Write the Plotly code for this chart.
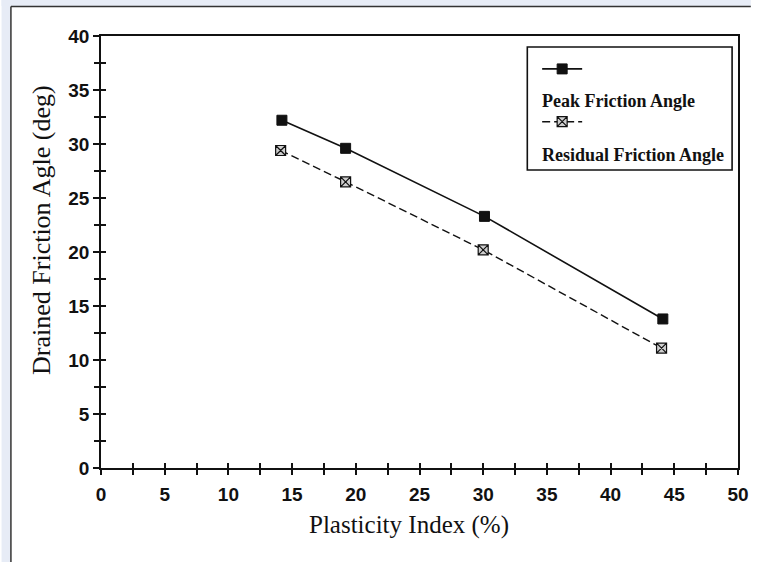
import plotly.graph_objects as go

# ---- data ----
pi_peak = [14.2, 19.2, 30.1, 44.1]
peak_angle = [32.2, 29.6, 23.3, 13.8]
pi_res = [14.1, 19.2, 30.0, 44.0]
res_angle = [29.4, 26.5, 20.2, 11.1]

x_ticks = [0, 5, 10, 15, 20, 25, 30, 35, 40, 45, 50]
y_ticks = [0, 5, 10, 15, 20, 25, 30, 35, 40]

series_names = ["Peak Friction Angle", "Residual Friction Angle"]
x_title = "Plasticity Index (%)"
y_title = "Drained Friction Agle (deg)"

# ---- layout geometry (pixels) ----
W, H = 761, 562
L, R, T, B = 101, 13, 36, 94
PW, PH = W - L - R, H - T - B

def px(x):
    return (x - L) / PW

def py(y):
    return (H - B - y) / PH

INK = "#111111"
tick_font = dict(family="Liberation Sans, Arial, sans-serif", size=19, color=INK, weight="bold")
serif = "Liberation Serif, Times New Roman, serif"

fig = go.Figure()
fig.add_trace(go.Scatter(
    x=pi_peak, y=peak_angle, mode="lines+markers", name=" ",
    legendgroup="a",
    line=dict(color=INK, width=1.6),
    marker=dict(symbol="square", size=10, color=INK, line=dict(color=INK, width=1)),
))
fig.add_trace(go.Scatter(
    x=pi_res, y=res_angle, mode="lines+markers", name=" ",
    legendgroup="b",
    line=dict(color=INK, width=1.4, dash="8px,4px"),
    marker=dict(symbol="square-x", size=10, color="#cfcfcf", line=dict(color=INK, width=1.2)),
))

common_x = dict(range=[0, 50], tickvals=x_ticks, showgrid=False, zeroline=False)
common_y = dict(range=[0, 40], tickvals=y_ticks, showgrid=False, zeroline=False)

strip = "#e7ecf6"
fig.update_layout(
    width=W, height=H, autosize=False,
    margin=dict(l=L, r=R, t=T, b=B),
    paper_bgcolor="white", plot_bgcolor="white",
    showlegend=True,
    legend=dict(
        x=px(544), y=py(52), xanchor="left", yanchor="top",
        bgcolor="rgba(0,0,0,0)", borderwidth=0,
        font=dict(family=serif, size=16, color=INK),
        tracegroupgap=29, itemwidth=40,
    ),
    xaxis=dict(
        **common_x, showline=True, linecolor=INK, linewidth=1.8, mirror=True,
        ticks="outside", ticklen=5, tickwidth=1.5, tickcolor=INK,
        minor=dict(dtick=2.5, tick0=0, ticks="outside", ticklen=5, tickwidth=1.5, tickcolor=INK),
        tickfont=tick_font, ticklabelstandoff=3,
    ),
    xaxis2=dict(
        **common_x, overlaying="x", anchor="y", side="bottom", showline=False,
        ticks="inside", ticklen=5, tickwidth=1.5, tickcolor=INK, showticklabels=False,
        minor=dict(dtick=2.5, tick0=0, ticks="inside", ticklen=5, tickwidth=1.5, tickcolor=INK),
    ),
    yaxis=dict(
        **common_y, showline=True, linecolor=INK, linewidth=1.8, mirror=True,
        ticks="outside", ticklen=6, tickwidth=1.5, tickcolor=INK,
        minor=dict(dtick=2.5, tick0=0, ticks="outside", ticklen=5, tickwidth=1.5, tickcolor=INK),
        tickfont=tick_font,
    ),
    yaxis2=dict(
        **common_y, overlaying="y", anchor="x", side="left", showline=False,
        ticks="inside", ticklen=5, tickwidth=1.5, tickcolor=INK, showticklabels=False,
        minor=dict(dtick=2.5, tick0=0, ticks="inside", ticklen=5, tickwidth=1.5, tickcolor=INK),
    ),
)

# invisible trace to activate overlay axes
fig.add_trace(go.Scatter(x=[None], y=[None], xaxis="x2", yaxis="y2", showlegend=False, hoverinfo="skip"))

# scan frame: light strips on the left and top edges with a dark rule
fig.add_shape(type="rect", xref="paper", yref="paper", x0=px(0), x1=px(W), y0=py(6), y1=py(0),
              line=dict(width=0), fillcolor=strip, layer="above")
fig.add_shape(type="rect", xref="paper", yref="paper", x0=px(0), x1=px(9), y0=py(H), y1=py(0),
              line=dict(width=0), fillcolor=strip, layer="above")
fig.add_shape(type="line", xref="paper", yref="paper", x0=px(9.5), x1=px(W), y0=py(6.5), y1=py(6.5),
              line=dict(color="#333333", width=1.5), layer="above")
fig.add_shape(type="line", xref="paper", yref="paper", x0=px(9.5), x1=px(9.5), y0=py(H), y1=py(6.5),
              line=dict(color="#333333", width=1.5), layer="above")

# axis titles
fig.add_annotation(text=x_title, xref="paper", yref="paper", x=px(414), y=py(525),
                   showarrow=False, font=dict(family=serif, size=25, color=INK),
                   xanchor="center", yanchor="middle")
fig.add_annotation(text=y_title, xref="paper", yref="paper", x=px(40), y=py(230),
                   showarrow=False, textangle=-90, font=dict(family=serif, size=26, color=INK),
                   xanchor="center", yanchor="middle")

# legend labels below each sample
for name, ypix in zip(series_names, [101, 155]):
    fig.add_annotation(text="<b>" + name + "</b>", xref="paper", yref="paper",
                       x=px(547), y=py(ypix), showarrow=False,
                       font=dict(family=serif, size=18, color=INK),
                       xanchor="left", yanchor="middle")

# legend box
fig.add_shape(type="rect", xref="paper", yref="paper",
              x0=px(534), x1=px(742), y0=py(170), y1=py(47),
              line=dict(color=INK, width=1.6), fillcolor="rgba(0,0,0,0)")

fig.write_html(
    "out.html",
    config={"displayModeBar": False},
    post_script="document.documentElement.style.overflow='hidden';document.body.style.margin='0';document.body.style.overflow='hidden';",
)
